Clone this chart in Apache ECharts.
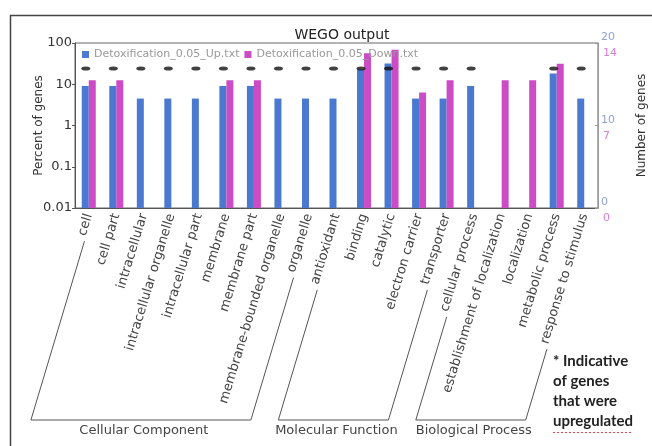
<!DOCTYPE html>
<html>
<head>
<meta charset="utf-8">
<script src="https://cdn.jsdelivr.net/npm/echarts@6/dist/echarts.min.js"></script>
<style>
  html, body { margin: 0; padding: 0; background: #fff; }
  #chart { width: 652px; height: 446px; }
</style>
</head>
<body>
<div id="chart"></div>
<script>
// GO categories along the x axis
const categories = [
  'cell', 'cell part', 'intracellular', 'intracellular organelle', 'intracellular part',
  'membrane', 'membrane part', 'membrane-bounded organelle', 'organelle',
  'antioxidant', 'binding', 'catalytic', 'electron carrier', 'transporter',
  'cellular process', 'establishment of localization', 'localization',
  'metabolic process', 'response to stimulus'
];

// Percent of genes in each category (null = no genes)
const upPercent = [
  9.1, 9.1, 4.5, 4.5, 4.5, 9.1, 9.1, 4.5, 4.5,
  4.5, 22.7, 31.8, 4.5, 4.5,
  9.1, null, null, 18.2, 4.5
];
const downPercent = [
  12.5, 12.5, null, null, null, 12.5, 12.5, null, null,
  null, 56.3, 68.8, 6.3, 12.5,
  null, 12.5, 12.5, 31.3, null
];

// Height (percent) at which the up-regulation markers sit
const upMarkLevel = 24;

// Axis ticks
const percentTicks = [0.01, 0.1, 1, 10, 100];
const upCountTicks = [0, 10, 20];
const downCountTicks = [0, 7, 14];

// Ontology groups, by first and last category index
const groupNames = ['Cellular Component', 'Molecular Function', 'Biological Process'];
const groupFirst = [0, 9, 14];
const groupLast = [8, 13, 18];

const seriesNames = ['Detoxification_0.05_Up.txt', 'Detoxification_0.05_Down.txt'];
const titleText = 'WEGO output';
const noteLines = ['* Indicative', 'of genes', 'that were', 'upregulated'];

const FONT = 'DejaVu Sans';
const BLUE = '#4a79cf';
const MAGENTA = '#cc4cc6';
const BAR_W = 7;
const LABEL_ROTATE = 73;
const LABEL_MARGIN = 6;
const LABEL_SIZE = 13;

const chart = echarts.init(document.getElementById('chart'), null, { renderer: 'canvas' });

function tickLabel(list) {
  return function (v) {
    const t = list.find(function (t) { return Math.abs(Math.log10(t) - Math.log10(v)) < 1e-6; });
    return t == null ? '' : String(t);
  };
}

// Bars on the log axis, drawn from the axis floor up to the value
function barSeries(name, values, color, side) {
  return {
    type: 'custom',
    name: name,
    xAxisIndex: 0,
    yAxisIndex: 0,
    itemStyle: { color: color },
    encode: { x: 0, y: 1 },
    data: values.map(function (v, i) { return v == null ? null : [i, v]; })
                .filter(function (d) { return d; }),
    renderItem: function (params, api) {
      const top = api.coord([api.value(0), api.value(1)]);
      const base = api.coord([api.value(0), percentTicks[0]]);
      return {
        type: 'rect',
        shape: {
          x: top[0] + (side < 0 ? -BAR_W : 0),
          y: top[1],
          width: BAR_W,
          height: base[1] - top[1]
        },
        style: { fill: color }
      };
    }
  };
}

const markerData = upPercent
  .map(function (v, i) { return v == null ? null : [i, upMarkLevel]; })
  .filter(function (d) { return d; });

chart.setOption({
  animation: false,
  backgroundColor: '#fff',
  title: {
    text: titleText,
    left: 337,
    top: 23,
    textAlign: 'center',
    textStyle: { fontFamily: FONT, fontSize: 14, fontWeight: 'normal', color: '#222' }
  },
  legend: {
    data: seriesNames,
    left: 82,
    top: 49,
    padding: 0,
    itemWidth: 7,
    itemHeight: 7,
    itemGap: 5,
    icon: 'rect',
    textStyle: { fontFamily: FONT, fontSize: 11, color: '#999' }
  },
  grid: {
    left: 75, right: 54, top: 43, bottom: 238,
    show: true, borderColor: '#666', borderWidth: 1,
    containLabel: false, outerBoundsMode: 'none'
  },
  xAxis: {
    type: 'category',
    data: categories,
    axisLine: { lineStyle: { color: '#555' } },
    axisTick: { length: 3, lineStyle: { color: '#777' } },
    axisLabel: {
      interval: 0, rotate: LABEL_ROTATE, margin: LABEL_MARGIN,
      fontFamily: FONT, fontSize: LABEL_SIZE, color: '#444'
    }
  },
  yAxis: [
    {
      type: 'log', logBase: 10, min: percentTicks[0], max: percentTicks[percentTicks.length - 1],
      name: 'Percent of genes', nameLocation: 'middle', nameGap: 30, nameRotate: 90,
      nameMoveOverlap: false,
      nameTextStyle: { fontFamily: FONT, fontSize: 12, color: '#333' },
      axisLine: { show: true, lineStyle: { color: '#555' } },
      axisTick: { show: true, length: 3, lineStyle: { color: '#555' } },
      minorTick: { show: false },
      splitLine: { show: false },
      axisLabel: { formatter: tickLabel(percentTicks), margin: 3, fontFamily: FONT, fontSize: 13, color: '#333' }
    },
    {
      type: 'value', position: 'right',
      min: upCountTicks[0], max: upCountTicks[upCountTicks.length - 1], interval: upCountTicks[1] - upCountTicks[0],
      name: 'Number of genes', nameLocation: 'middle', nameGap: 38, nameRotate: 90,
      nameTextStyle: { fontFamily: FONT, fontSize: 12, color: '#333' },
      axisLine: { show: true, lineStyle: { color: '#999' } },
      axisTick: { show: true, inside: true, length: 3, lineStyle: { color: '#999' } },
      splitLine: { show: false },
      axisLabel: { margin: 3, verticalAlign: 'bottom', fontFamily: FONT, fontSize: 11, color: '#8ea3d9' }
    },
    {
      type: 'value', position: 'right',
      min: downCountTicks[0], max: downCountTicks[downCountTicks.length - 1], interval: downCountTicks[1] - downCountTicks[0],
      axisLine: { show: false },
      axisTick: { show: false },
      splitLine: { show: false },
      axisLabel: { margin: 5, verticalAlign: 'top', padding: [5, 0, 0, 0], fontFamily: FONT, fontSize: 11, color: '#d57fd5' }
    }
  ],
  series: [
    barSeries(seriesNames[0], upPercent, BLUE, -1),
    barSeries(seriesNames[1], downPercent, MAGENTA, 1),
    {
      type: 'scatter',
      name: 'up marker',
      xAxisIndex: 0,
      yAxisIndex: 0,
      data: markerData,
      symbol: 'circle',
      symbolSize: [9, 4],
      symbolOffset: [-3, 0],
      itemStyle: { color: '#111' },
      silent: true,
      z: 5
    }
  ]
});

// Group brackets beneath the rotated category labels
const measure = document.createElement('canvas').getContext('2d');
measure.font = LABEL_SIZE + 'px "' + FONT + '"';
const ang = LABEL_ROTATE * Math.PI / 180;
const dir = [-Math.cos(ang), Math.sin(ang)];
const axisY = chart.convertToPixel({ yAxisIndex: 0 }, percentTicks[0]);
const BRACKET_Y = 420;
const BRACKET_SLOPE = 3.34;

function labelFoot(i) {
  const x = chart.convertToPixel({ xAxisIndex: 0 }, categories[i]);
  const w = measure.measureText(categories[i]).width + 6;
  return [x + dir[0] * w + 4, axisY + LABEL_MARGIN + dir[1] * w];
}
function down(p) {
  return [p[0] - (BRACKET_Y - p[1]) / BRACKET_SLOPE, BRACKET_Y];
}

const graphics = [];
groupNames.forEach(function (name, g) {
  const lt = labelFoot(groupFirst[g]);
  const rt = labelFoot(groupLast[g]);
  const lb = down(lt);
  const rb = down(rt);
  graphics.push({
    type: 'polyline',
    shape: { points: [lt, lb, rb, rt] },
    style: { stroke: '#555', lineWidth: 1, fill: null },
    silent: true
  });
  graphics.push({
    type: 'text',
    x: (lb[0] + rb[0]) / 2 + 3,
    y: 431,
    style: {
      text: name, fill: '#444', font: '13px "' + FONT + '"',
      align: 'center', verticalAlign: 'middle', textAlign: 'center', textVerticalAlign: 'middle'
    },
    silent: true
  });
});

// Footnote on the right
const noteX = 553;
graphics.push({
  type: 'text',
  x: noteX,
  y: 351,
  style: {
    text: noteLines.join('\n'), fill: '#222', font: 'bold 15px Lato', lineHeight: 20,
    align: 'left', verticalAlign: 'top', textAlign: 'left', textVerticalAlign: 'top'
  },
  silent: true
});
measure.font = 'bold 15px Lato';
const ulW = measure.measureText(noteLines[noteLines.length - 1]).width;
graphics.push({
  type: 'line',
  shape: { x1: noteX, y1: 432.5, x2: noteX + ulW, y2: 432.5 },
  style: { stroke: '#e04848', lineWidth: 1, lineDash: [2, 2] },
  silent: true
});

// Page frame
graphics.push({
  type: 'polyline',
  shape: { points: [[10.5, 446], [10.5, 15.5], [652, 15.5]] },
  style: { stroke: '#444', lineWidth: 1.5, fill: null },
  silent: true
});

chart.setOption({ graphic: graphics });
</script>
</body>
</html>
